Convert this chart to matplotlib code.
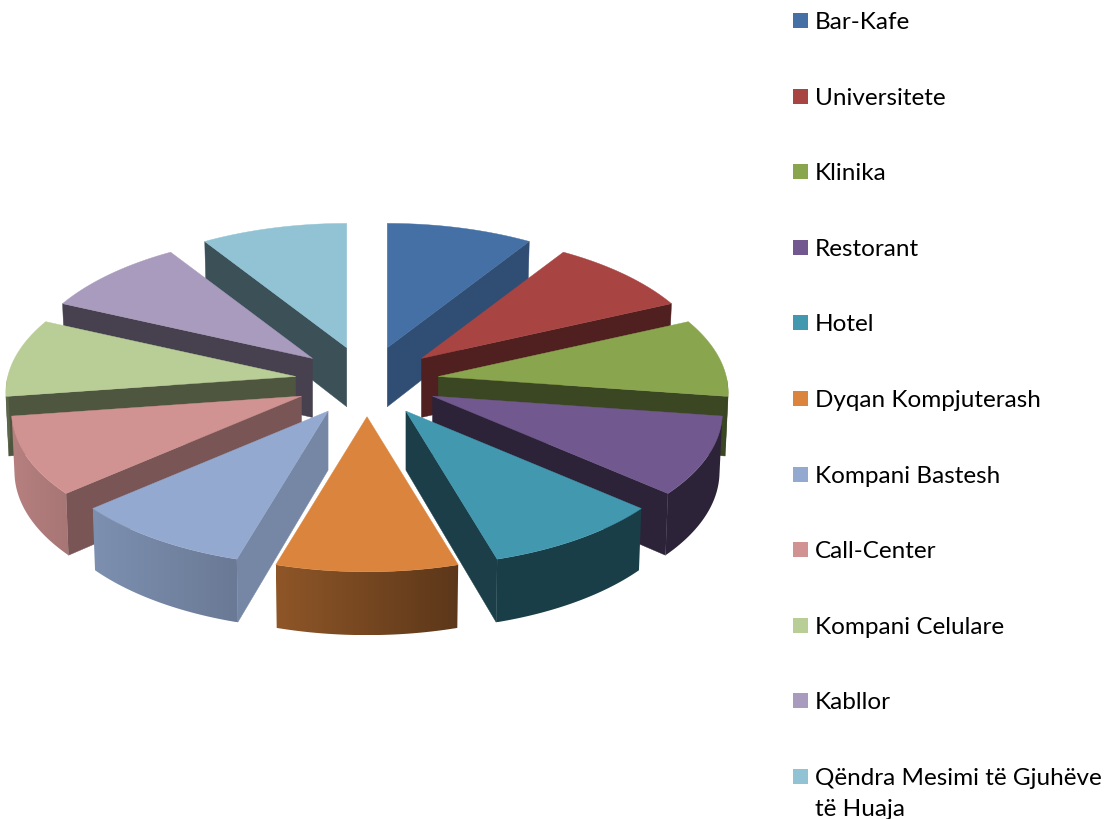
import numpy as np
import matplotlib
matplotlib.use("Agg")
import matplotlib.pyplot as plt
from matplotlib.patches import Polygon, Rectangle
from matplotlib.colors import to_rgb

# ---- data ----
categories = ["Bar-Kafe", "Universitete", "Klinika", "Restorant", "Hotel",
              "Dyqan Kompjuterash", "Kompani Bastesh", "Call-Center",
              "Kompani Celulare", "Kabllor", "Qëndra Mesimi të Gjuhëve\ntë Huaja"]
values = [9.09, 9.09, 9.09, 9.09, 9.09, 9.09, 9.09, 9.09, 9.09, 9.09, 9.09]

# ---- styles ----
colors = ["#4470A5", "#A84442", "#89A54E", "#71588F", "#4198AF", "#DB843D",
          "#93A9CF", "#D19392", "#B9CD96", "#A99BBD", "#91C3D5"]
wall_shade = [0.70, 0.47, 0.43, 0.40, 0.41, 0.5, 0.80, 0.58, 0.42, 0.42, 0.41]
arc_shade_right = [.4, .4, .43, .40, .41, .42, .72, .80, .5, .5, .5]
arc_shade_left = [.4, .4, .43, .40, .41, .65, .85, .87, .5, .5, .5]

CX, CY = 367.0, 382.5      # pie centre on screen
EXPL_X, EXPL_Y = 72.0, 35.2   # explosion offset on screen
RX, RY = 288.0, 138.0      # radius on screen without perspective
PERSP_X, PERSP_Y = 0.115, 0.11   # front/back size difference
H0 = 59.0                  # thickness

fig = plt.figure(figsize=(11.10, 8.20), dpi=100)
ax = fig.add_axes([0, 0, 1, 1])


def shade(c, f):
    return tuple(v * f for v in to_rgb(c))


def top_pt(tip, th):
    sx = 1.0 / (1.0 + PERSP_X * np.cos(th))
    sy = 1.0 / (1.0 + PERSP_Y * np.cos(th))
    return np.column_stack([tip[0] + RX * np.sin(th) * sx,
                            tip[1] - RY * np.cos(th) * sy])


def bottom_pt(tip, th):
    sx = 1.0 / (1.0 + PERSP_X * np.cos(th))
    sy = 1.0 / (1.0 + PERSP_Y * np.cos(th))
    h = H0 * (1 + 0.6 * (sy - 1))
    return np.column_stack([tip[0] + 0.99 * RX * np.sin(th) * sx,
                            tip[1] - RY * np.cos(th) * sy + h])


edges = np.cumsum([0.0] + list(values)) / sum(values) * 2 * np.pi
mids = (edges[:-1] + edges[1:]) / 2
order = np.argsort(-np.cos(mids), kind="stable")

for i in order:
    a0, a1, mid = edges[i], edges[i + 1], mids[i]
    col = colors[i]
    tip = (CX + EXPL_X * np.sin(mid), CY - EXPL_Y * np.cos(mid))
    tip_bottom = (tip[0], tip[1] + H0)

    # cut wall that faces the viewer: end wall on the right, start wall on the left
    if abs(np.cos(mid) + 1) > 1e-3:
        wall_a = a1 if np.sin(mid) > 0 else a0
        t = top_pt(tip, np.array([wall_a]))[0]
        b = bottom_pt(tip, np.array([wall_a]))[0]
        wc = shade(col, wall_shade[i])
        ax.add_patch(Polygon([tip, t, b, tip_bottom], closed=True, fc=wc,
                             ec=wc, lw=0.3, zorder=2))

    # outer wall on the front-facing part, with a left-to-right gradient
    ths = np.linspace(a0, a1, 80)
    ths = ths[np.cos(ths) <= 0]
    if len(ths) > 1:
        top = top_pt(tip, ths)
        bot = bottom_pt(tip, ths)
        outline = np.vstack([top, bot[::-1]])
        clip = Polygon(outline, closed=True, fc="none", ec="none",
                       transform=ax.transData)
        ax.add_patch(clip)
        x0, x1 = outline[:, 0].min(), outline[:, 0].max()
        y0, y1 = outline[:, 1].min(), outline[:, 1].max()
        base = np.array(to_rgb(col))
        grad = np.linspace(arc_shade_left[i], arc_shade_right[i], 64)
        rgb = (grad[:, None] * base)[None, :, :]
        im = ax.imshow(rgb, extent=(x0, x1, y1, y0), aspect="auto",
                       interpolation="bilinear", zorder=2)
        im.set_clip_path(clip)

    # top face
    arc = top_pt(tip, np.linspace(a0, a1, 60))
    ax.add_patch(Polygon(np.vstack([[tip], arc]), closed=True, fc=col, ec=col,
                         lw=0.3, zorder=2))

ax.set_xlim(0, 1110)
ax.set_ylim(820, 0)
ax.axis("off")

# legend
LEG_X, LEG_Y0, LEG_DY = 793, 21.5, 75.6
for i, (name, col) in enumerate(zip(categories, colors)):
    y = LEG_Y0 + i * LEG_DY
    ax.add_patch(Rectangle((LEG_X, y - 7.5), 15, 15, fc=col, ec="none", zorder=3))
    ax.text(815, y - 9.5, name, fontsize=17.5, family="Lato", color="black",
            va="top", ha="left", linespacing=1.6, zorder=3)

fig.savefig("out.png", dpi=100, facecolor="white")
